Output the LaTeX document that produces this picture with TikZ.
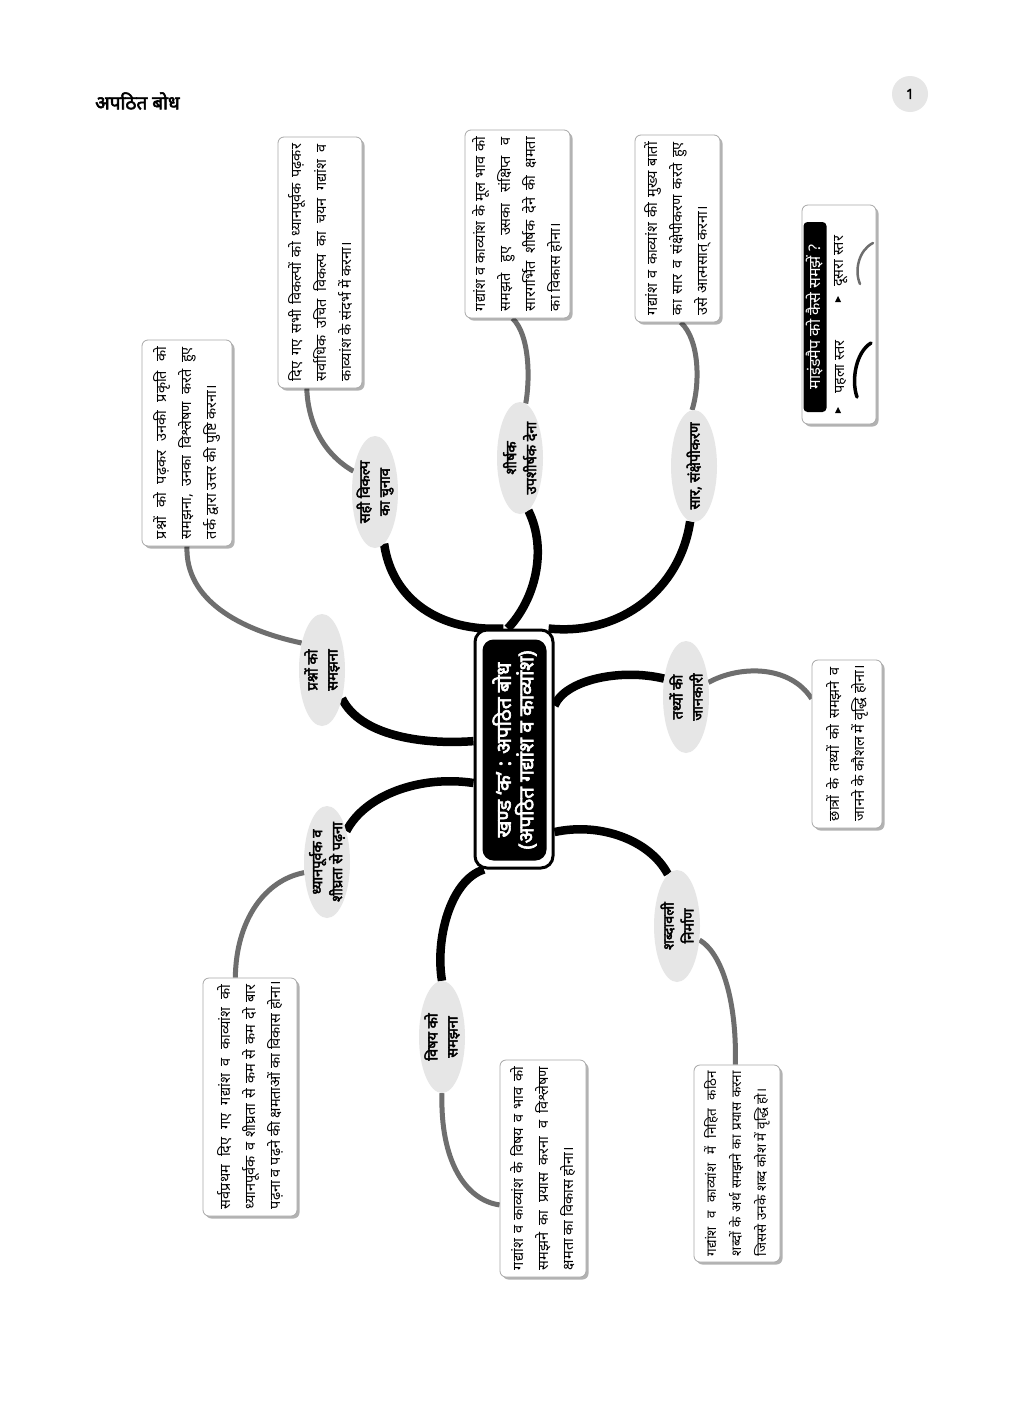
\documentclass[tikz,border=0pt]{standalone}
\usepackage{fontspec}
\setmainfont{Noto Sans}[Script=Devanagari, BoldFont=Noto Sans, BoldFeatures={FakeBold=3}]
\usetikzlibrary{shapes.geometric,shadows,backgrounds}
\definecolor{ellgrey}{HTML}{E6E6E6}
\definecolor{lnkgrey}{HTML}{6E6E6E}
\definecolor{bordergrey}{HTML}{A8A8A8}
\newcommand\jline[2]{\makebox[#1][s]{#2}}
\begin{document}
\begin{tikzpicture}[x=1pt,y=-1pt,
  tbox/.style={draw=bordergrey, line width=0.8pt, rounded corners=6pt, fill=white, inner sep=0pt,
     drop shadow={shadow xshift=2.5pt, shadow yshift=-2.5pt, fill=black, opacity=0.3}},
  ell/.style={ellipse, fill=ellgrey, inner sep=0pt, minimum width=46pt, minimum height=112pt},
  etxt/.style={rotate=90, font=\bfseries\fontsize{14.5}{20}\selectfont, align=center, inner sep=0pt},
  btxt/.style={rotate=90, font=\fontsize{14.5}{25}\selectfont, align=left, inner sep=0pt},
  lvlone/.style={line width=8.5pt, draw=black},
  lvltwo/.style={line width=5pt, draw=lnkgrey},
]
\useasboundingbox (0,0) rectangle (1024,1408);

% header
\node[anchor=west, inner sep=0pt, font=\bfseries\fontsize{19}{22}\selectfont] (hdr) at (95,101) {अपठित बोध};
\node[circle, fill=ellgrey, minimum size=36pt, inner sep=0pt, font=\bfseries\fontsize{14}{16}\selectfont] (pg) at (910,94) {1};

% centre
\node[draw=black, line width=3pt, fill=white, rounded corners=12pt, minimum width=78pt, minimum height=238pt, inner sep=0pt] (C0) at (514,749) {};
\node[fill=black, rounded corners=11pt, minimum width=64pt, minimum height=221pt, inner sep=0pt] (C1) at (514.5,750) {};
\node[rotate=90, text=white, inner sep=0pt, font=\bfseries\fontsize{20.5}{22.5}\selectfont, align=center] (C2) at (C1) {खण्ड ‘क’ : अपठित बोध\\(अपठित गद्यांश व काव्यांश)};

% first level ellipses
\node[ell] (e1) at (375,492) {};
\node[etxt] (e1t) at (e1) {सही विकल्प\\का चुनाव};
\node[ell] (e2) at (520,458) {};
\node[etxt] (e2t) at (e2) {शीर्षक\\उपशीर्षक देना};
\node[ell] (e3) at (694,466) {};
\node[etxt] (e3t) at (e3) {सार, संक्षेपीकरण};
\node[ell] (e4) at (322,670) {};
\node[etxt] (e4t) at (e4) {प्रश्नों को\\समझना};
\node[ell] (e5) at (686,697) {};
\node[etxt] (e5t) at (e5) {तथ्यों की\\जानकारी};
\node[ell] (e6) at (327,862) {};
\node[etxt] (e6t) at (e6) {ध्यानपूर्वक व\\शीघ्रता से पढ़ना};
\node[ell] (e7) at (677,926) {};
\node[etxt] (e7t) at (e7) {शब्दावली\\निर्माण};
\node[ell] (e8) at (442,1037) {};
\node[etxt] (e8t) at (e8) {विषय को\\समझना};

% text boxes
\node[tbox, minimum width=84pt, minimum height=251pt] (A) at (320,262.5) {};
\node[btxt] (At) at (A) {\jline{237pt}{दिए गए सभी विकल्पों को ध्यानपूर्वक पढ़कर}\\\jline{237pt}{सर्वाधिक उचित विकल्प का चयन गद्यांश व}\\\makebox[237pt][l]{काव्यांश के संदर्भ में करना।}};
\node[tbox, minimum width=105pt, minimum height=188pt] (B) at (517.5,224) {};
\node[btxt] (Bt) at (B) {\jline{174pt}{गद्यांश व काव्यांश के मूल भाव को}\\\jline{174pt}{समझते हुए उसका संक्षिप्त व}\\\jline{174pt}{सारगर्भित शीर्षक देने की क्षमता}\\\makebox[174pt][l]{का विकास होना।}};
\node[tbox, minimum width=85pt, minimum height=187pt] (C) at (677.5,228.5) {};
\node[btxt] (Ct) at (C) {\jline{173pt}{गद्यांश व काव्यांश की मुख्य बातों}\\\jline{173pt}{का सार व संक्षेपीकरण करते हुए}\\\makebox[173pt][l]{उसे आत्मसात् करना।}};
\node[tbox, minimum width=90pt, minimum height=206pt] (D) at (187,443) {};
\node[btxt] (Dt) at (D) {\jline{192pt}{प्रश्नों को पढ़कर उनकी प्रकृति को}\\\jline{192pt}{समझना, उनका विश्लेषण करते हुए}\\\makebox[192pt][l]{तर्क द्वारा उत्तर की पुष्टि करना।}};
\node[tbox, minimum width=70pt, minimum height=168pt] (E) at (847,744) {};
\node[btxt] (Et) at (E) {\jline{154pt}{छात्रों के तथ्यों को समझने व}\\\makebox[154pt][l]{जानने के कौशल में वृद्धि होना।}};
\node[tbox, minimum width=94pt, minimum height=238pt] (F) at (250,1097) {};
\node[btxt] (Ft) at (F) {\jline{224pt}{सर्वप्रथम दिए गए गद्यांश व काव्यांश को}\\\jline{224pt}{ध्यानपूर्वक व शीघ्रता से कम से कम दो बार}\\\makebox[224pt][l]{पढ़ना व पढ़ने की क्षमताओं का विकास होना।}};
\node[tbox, minimum width=86pt, minimum height=217pt] (G) at (543,1168.5) {};
\node[btxt] (Gt) at (G) {\jline{203pt}{गद्यांश व काव्यांश के विषय व भाव को}\\\jline{203pt}{समझने का प्रयास करना व विश्लेषण}\\\makebox[203pt][l]{क्षमता का विकास होना।}};
\node[tbox, minimum width=86pt, minimum height=197pt] (H) at (737,1163.5) {};
\node[btxt, font=\fontsize{13.5}{25}\selectfont] (Ht) at (H) {\jline{185pt}{गद्यांश व काव्यांश में निहित कठिन}\\\jline{185pt}{शब्दों के अर्थ समझने का प्रयास करना}\\\makebox[185pt][l]{जिससे उनके शब्द कोश में वृद्धि हो।}};

% legend
\node[tbox, minimum width=74pt, minimum height=219pt] (L) at (839,314.5) {};
\node[fill=black, rounded corners=4pt, minimum width=23pt, minimum height=190pt, inner sep=0pt] (LT) at (815,317) {};
\node[rotate=90, text=white, inner sep=0pt, font=\fontsize{16}{18}\selectfont] (LTt) at (LT) {माइंडमैप को कैसे समझें ?};
\node[rotate=90, anchor=west, inner sep=0pt, font=\fontsize{14.5}{16}\selectfont] (L1) at (841,394) {पहला स्तर};
\node[rotate=90, anchor=west, inner sep=0pt, font=\fontsize{14.5}{16}\selectfont] (L2) at (841,287) {दूसरा स्तर};
\fill (835,413) -- (841,413) -- (838,407) -- cycle;
\fill (835,302) -- (841,302) -- (838,296) -- cycle;
\draw[line width=3.5pt, line cap=round] (871,343) .. controls (856,352) and (851,380) .. (857,397);
\draw[line width=2.5pt, line cap=round, draw=lnkgrey] (873,243) .. controls (859,250) and (854,270) .. (860,284);

% connectors
\begin{pgfonlayer}{background}
\fill[white] (0,0) rectangle (1024,1408);
\draw[lvlone] (e1.-80) .. controls (392,600) and (440,632) .. (C0.95);
\draw[lvlone] (e2.-81) .. controls (548,550) and (535,600) .. (C0.93);
\draw[lvlone] (C0.74) .. controls (620,636) and (680,590) .. (e3.-94);
\draw[lvlone] (e4.-55) .. controls (360,735) and (420,745) .. (C0.169);
\draw[lvlone] (C0.-140) .. controls (420,775) and (365,795) .. (e6.58);
\draw[lvlone] (C0.-104) .. controls (450,880) and (435,940) .. (e8.90);
\draw[lvlone] (C0.-64) .. controls (600,822) and (650,840) .. (e7.100);
\draw[lvlone] (C0.47) .. controls (565,680) and (620,668) .. (e5.140);
\draw[lvltwo] (e1.136) .. controls (325,455) and (308,425) .. (A.-96);
\draw[lvltwo] (B.-93) .. controls (530,335) and (530,380) .. (e2.84);
\draw[lvltwo] (C.-88) .. controls (700,340) and (700,385) .. (e3.92);
\draw[lvltwo] (D.-90) .. controls (185,600) and (240,630) .. (e4.127);
\draw[lvltwo] (e5.33) .. controls (740,665) and (790,665) .. (E.128);
\draw[lvltwo] (e6.-155) .. controls (265,880) and (236,920) .. (F.97);
\draw[lvltwo] (e7.-32) .. controls (725,955) and (737,1010) .. (H.91);
\draw[lvltwo] (e8.-90) .. controls (440,1160) and (465,1200) .. (G.-140);
\end{pgfonlayer}
\end{tikzpicture}
\end{document}
